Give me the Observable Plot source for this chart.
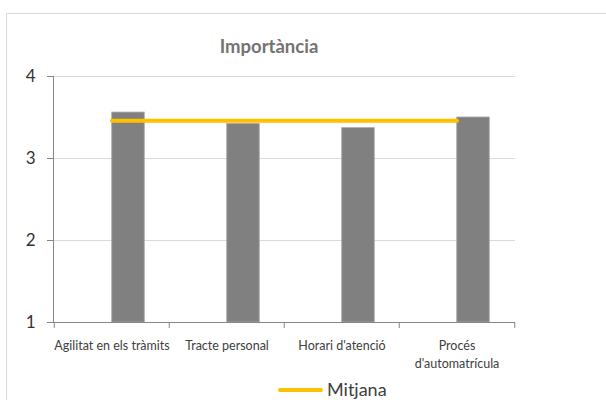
<!DOCTYPE html>
<html>
<head>
<meta charset="utf-8">
<script src="https://cdn.jsdelivr.net/npm/d3@7"></script>
<script src="https://cdn.jsdelivr.net/npm/@observablehq/plot@0.6"></script>
<style>
  html, body { margin: 0; padding: 0; background: #fff; }
  #wrap { position: relative; width: 606px; height: 400px; overflow: hidden; font-family: Lato, "Open Sans", sans-serif; }
  #border { position: absolute; left: 6px; top: 13px; width: 640px; height: 440px; border: 1px solid #d9d9d9; }
  #title { position: absolute; left: 0; top: 0; width: 538px; height: 62px; text-align: center; font-weight: bold; font-size: 18.5px; color: #737373; }
  #title span { position: absolute; left: 0; right: 0; top: 35px; }
  #chart { position: absolute; left: 0; top: 62px; }
  #legend { position: absolute; left: 0; top: 374px; width: 606px; height: 26px; }
  #legend .sw { position: absolute; left: 278px; top: 14px; width: 45px; height: 4px; border-radius: 2px; background: #ffc000; }
  #legend .lb { position: absolute; left: 327px; top: 5px; font-size: 18px; line-height: 20px; color: #404040; }
</style>
</head>
<body>
<div id="wrap">
  <div id="border"></div>
  <div id="title"><span>Importància</span></div>
  <div id="chart"></div>
  <div id="legend"><div class="sw"></div><div class="lb">Mitjana</div></div>
</div>
<script>
const categories = ["Agilitat en els tràmits", "Tracte personal", "Horari d'atenció", "Procés\nd'automatrícula"];
const values = [3.56, 3.42, 3.37, 3.50];
const meanValues = [3.46, 3.46, 3.46, 3.46];
const yTicks = [1, 2, 3, 4];

const data = categories.map((c, i) => ({cat: c, value: values[i], mean: meanValues[i]}));

const W = 606, H = 312;
const mL = 53, mR = 91, mT = 14, mB = 52;
const bw = (W - mL - mR) / categories.length;

const plot = Plot.plot({
  width: W,
  height: H,
  marginLeft: mL,
  marginRight: mR,
  marginTop: mT,
  marginBottom: mB,
  style: {fontFamily: "Lato, 'Open Sans', sans-serif", color: "#333", background: "transparent"},
  x: {domain: categories, padding: 0, axis: null, label: null},
  y: {domain: [1, 4], axis: null, label: null},
  marks: [
    Plot.gridY(yTicks.filter(t => t > 1), {stroke: "#d9d9d9", strokeOpacity: 1}),
    Plot.rectY(data, {x: "cat", y1: 1, y2: "value", fill: "#808080", stroke: "#a6a6a6", strokeWidth: 0.8,
      insetLeft: bw / 2, insetRight: bw / 2 - 33}),
    Plot.frame({anchor: "left", stroke: "#868686"}),
    Plot.ruleY([1], {stroke: "#868686"}),
    Plot.axisY(yTicks, {tickSize: 6, tickPadding: 12, fontSize: 17, stroke: "#868686", fill: "#333", label: null, tickFormat: d => String(d)}),
    Plot.axisX(categories, {tickSize: 6, dx: -bw / 2, stroke: "#868686", label: null, tickFormat: () => ""}),
    Plot.axisX([categories[categories.length - 1]], {tickSize: 6, dx: bw / 2, stroke: "#868686", label: null, tickFormat: () => ""}),
    Plot.axisX(categories, {tickSize: 0, tickPadding: 15, fontSize: 12.5, lineHeight: 1.45, fill: "#404040", label: null, tickFormat: d => d}),
    Plot.lineY(data, {x: "cat", y: "mean", stroke: "#ffc000", strokeWidth: 4, strokeLinecap: "round"})
  ]
});
document.getElementById("chart").appendChild(plot);
</script>
</body>
</html>
